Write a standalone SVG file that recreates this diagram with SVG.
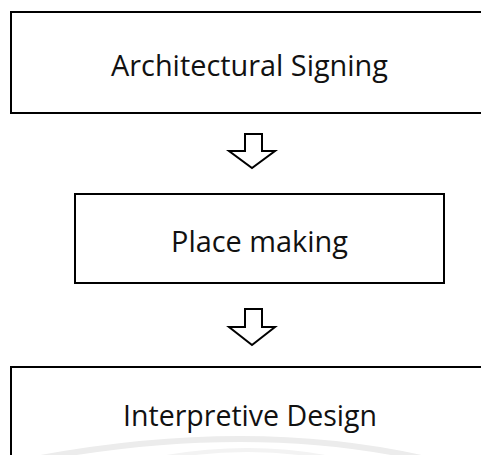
<svg xmlns="http://www.w3.org/2000/svg" width="481" height="455" viewBox="0 0 481 455">
<style>
.box{fill:none;stroke:#000;stroke-width:2}
.lbl{font-family:"Open Sans","DejaVu Sans",sans-serif;font-size:29px;fill:#111}
.arr{fill:#fff;stroke:#000;stroke-width:2;stroke-linejoin:miter}
</style>
<rect width="481" height="455" fill="#fff"/>
<path d="M30,460 Q250,418 430,460" fill="none" stroke="#ececec" stroke-width="6"/>
<path d="M150,460 Q250,440 340,460" fill="none" stroke="#f3f3f3" stroke-width="4"/>
<g id="node-architectural">
<rect class="box" x="11" y="12" width="480" height="101"/>
<text class="lbl" x="111" y="76" textLength="277" lengthAdjust="spacingAndGlyphs">Architectural Signing</text>
</g>
<g id="node-place">
<rect class="box" x="75" y="194" width="369" height="89"/>
<text class="lbl" x="171" y="252" font-size="28" textLength="177" lengthAdjust="spacingAndGlyphs">Place making</text>
</g>
<g id="node-interpretive">
<rect class="box" x="11" y="367" width="480" height="100"/>
<text class="lbl" x="123" y="426" textLength="254" lengthAdjust="spacingAndGlyphs">Interpretive Design</text>
</g>
<g id="connectors">
<path class="arr" d="M245,134 H262 V151 H275 L252,168 L229,151 H245 Z"/>
<path class="arr" d="M245,309 H262 V327 H275 L252,345 L229,327 H245 Z"/>
</g>
</svg>
